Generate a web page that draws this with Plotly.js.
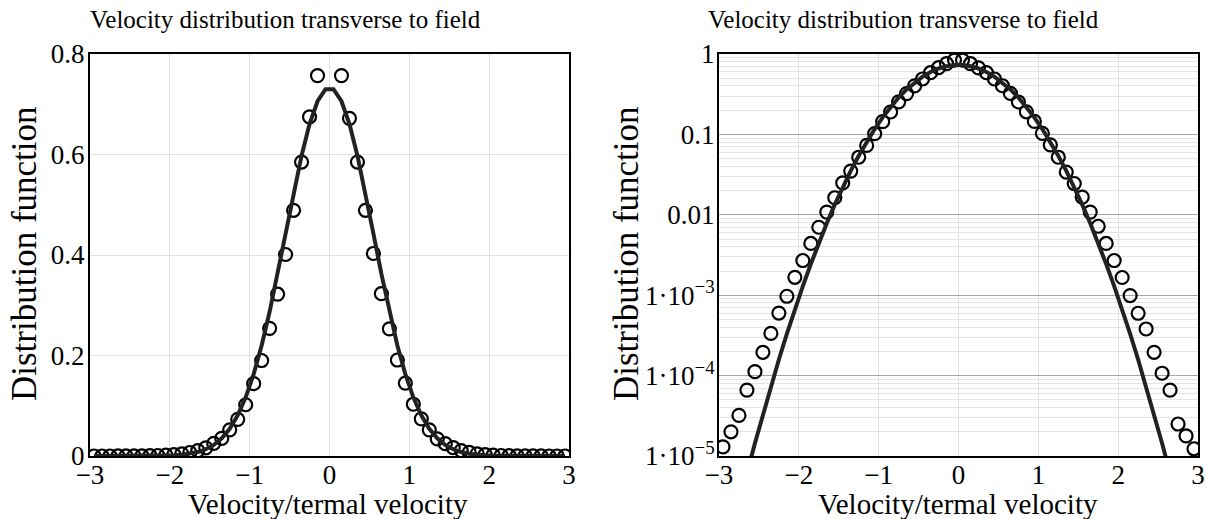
<!DOCTYPE html>
<html><head><meta charset="utf-8">
<script src="https://cdn.plot.ly/plotly-3.0.1.min.js"></script>
<style>html,body{margin:0;padding:0;background:#fff}</style>
</head><body><div id="chart" style="width:1206px;height:519px"></div>
<script>
// Velocity / thermal velocity (bin centres)
const velocity = [-2.95,-2.85,-2.75,-2.65,-2.55,-2.45,-2.35,-2.25,-2.15,-2.05,
  -1.95,-1.85,-1.75,-1.65,-1.55,-1.45,-1.35,-1.25,-1.15,-1.05,
  -0.95,-0.85,-0.75,-0.65,-0.55,-0.45,-0.35,-0.25,-0.15,-0.05,
  0.05,0.15,0.25,0.35,0.45,0.55,0.65,0.75,0.85,0.95,
  1.05,1.15,1.25,1.35,1.45,1.55,1.65,1.75,1.85,1.95,
  2.05,2.15,2.25,2.35,2.45,2.55,2.65,2.75,2.85,2.95];
// Measured distribution (circles)
const measured = [1.3e-5,2.0e-5,3.2e-5,6.6e-5,1.12e-4,1.95e-4,3.35e-4,6.0e-4,9.7e-4,1.67e-3,
  2.7e-3,4.4e-3,7.0e-3,0.0108,0.0163,0.025,0.035,0.052,0.073,0.102,
  0.144,0.19,0.254,0.322,0.401,0.489,0.585,0.675,0.757,0.84,
  0.84,0.757,0.672,0.585,0.489,0.403,0.323,0.253,0.191,0.145,
  0.103,0.074,0.052,0.034,0.0245,0.0166,0.0108,0.0072,0.0044,0.0027,
  1.66e-3,9.9e-4,5.96e-4,3.8e-4,1.95e-4,1.07e-4,6.6e-5,2.5e-5,1.78e-5,1.23e-5];
// Maxwellian curve (solid line)
const maxwellian = [3.68e-7,9.68e-7,2.461e-6,6.054e-6,1.44e-5,3.314e-5,7.376e-5,1.587e-4,3.305e-4,6.656e-4,
  1.296e-3,2.443e-3,4.451e-3,7.843e-3,0.01337,0.02204,0.03515,0.05422,0.08089,0.1167,
  0.1629,0.2199,0.2870,0.3625,0.4427,0.5230,0.5976,0.6605,0.7060,0.7300,
  0.7300,0.7060,0.6605,0.5976,0.5230,0.4427,0.3625,0.2870,0.2199,0.1629,
  0.1167,0.08089,0.05422,0.03515,0.02204,0.01337,7.843e-3,4.451e-3,2.443e-3,1.296e-3,
  6.656e-4,3.305e-4,1.587e-4,7.376e-5,3.314e-5,1.44e-5,6.054e-6,2.461e-6,9.68e-7,3.68e-7];

const xTicks = [-3,-2,-1,0,1,2,3];
const linTicks = [0,0.2,0.4,0.6,0.8];
const linTickText = ['0','0.2','0.4','0.6','0.8'];
const logTicks = [1e-5,1e-4,1e-3,0.01,0.1,1];
const logTickText = ['1·10<sup>−5</sup>','1·10<sup>−4</sup>','1·10<sup>−3</sup>','0.01','0.1','1'];
const chartTitle = 'Velocity distribution transverse to field';
const xTitle = 'Velocity/termal velocity';
const yTitle = 'Distribution function';

const minorLog = [];
for (let e = -5; e < 0; e++) for (let m = 2; m <= 9; m++) minorLog.push(m * Math.pow(10, e));

const FONT = '"Liberation Serif", "Times New Roman", serif';
const circ = {symbol:'circle-open', size:13, color:'#000', line:{width:2.2, color:'#000'}};
const lineStyle = {color:'#222', width:4};

const traces = [
  {x: velocity, y: measured, type:'scatter', mode:'markers', marker: circ, xaxis:'x', yaxis:'y'},
  {x: velocity, y: maxwellian, type:'scatter', mode:'lines', line: lineStyle, xaxis:'x', yaxis:'y'},
  {x: velocity, y: measured, type:'scatter', mode:'markers', marker: circ, xaxis:'x2', yaxis:'y2'},
  {x: velocity, y: maxwellian, type:'scatter', mode:'lines', line: lineStyle, xaxis:'x2', yaxis:'y2'}
];

const tickFont = {family: FONT, size: 27, color:'#000'};
const baseX = {range:[-3,3], tickmode:'array', tickvals:xTicks, showgrid:true, gridcolor:'#e2e2e2', gridwidth:1,
  zeroline:false, showline:true, linecolor:'#000', linewidth:2, mirror:true, ticks:'', tickfont:tickFont,
  ticklabelstandoff:-6};

const W = 1108, H = 402, ML = 90, MT = 54;
function px2x(p){ return (p - ML)/W; }
function py2y(p){ return 1 - (p - MT)/H; }

const layout = {
  width:1206, height:519, showlegend:false,
  paper_bgcolor:'#fff', plot_bgcolor:'#fff',
  margin:{l:ML, r:8, t:MT, b:63},
  font:{family: FONT, color:'#000'},
  xaxis: Object.assign({}, baseX, {domain:[0, 479/W], anchor:'y'}),
  yaxis: {range:[0,0.8], tickmode:'array', tickvals:linTicks, ticktext:linTickText, showgrid:true, gridcolor:'#e2e2e2',
    zeroline:false, showline:true, linecolor:'#000', linewidth:2, mirror:true, ticks:'', tickfont:tickFont, anchor:'x',
    ticklabelstandoff:-2},
  xaxis2: Object.assign({}, baseX, {domain:[629/W, 1], anchor:'y2'}),
  yaxis2: {type:'log', range:[-5,0], tickmode:'array', tickvals:logTicks, ticktext:logTickText, showgrid:true,
    gridcolor:'#a6a6a6', zeroline:false, showline:true, linecolor:'#000', linewidth:2, mirror:true, ticks:'',
    tickfont:tickFont, anchor:'x2', ticklabelstandoff:-3,
    minor:{tickmode:'array', tickvals:minorLog, showgrid:true, gridcolor:'#e4e4e4', ticks:''}},
  annotations: [
    {text: chartTitle, xref:'paper', yref:'paper', x: px2x(285), y: py2y(19), xanchor:'center', yanchor:'middle', showarrow:false, font:{family:FONT, size:25, color:'#000'}},
    {text: chartTitle, xref:'paper', yref:'paper', x: px2x(903), y: py2y(19), xanchor:'center', yanchor:'middle', showarrow:false, font:{family:FONT, size:25, color:'#000'}},
    {text: xTitle, xref:'paper', yref:'paper', x: px2x(328), y: py2y(504), xanchor:'center', yanchor:'middle', showarrow:false, font:{family:FONT, size:29, color:'#000'}},
    {text: xTitle, xref:'paper', yref:'paper', x: px2x(958), y: py2y(504), xanchor:'center', yanchor:'middle', showarrow:false, font:{family:FONT, size:29, color:'#000'}},
    {text: yTitle, xref:'paper', yref:'paper', x: px2x(25), y: py2y(254), xanchor:'center', yanchor:'middle', textangle:-90, showarrow:false, font:{family:FONT, size:35, color:'#000'}},
    {text: yTitle, xref:'paper', yref:'paper', x: px2x(627), y: py2y(254), xanchor:'center', yanchor:'middle', textangle:-90, showarrow:false, font:{family:FONT, size:35, color:'#000'}}
  ]
};

Plotly.newPlot('chart', traces, layout, {displayModeBar:false, staticPlot:true});
</script></body></html>
